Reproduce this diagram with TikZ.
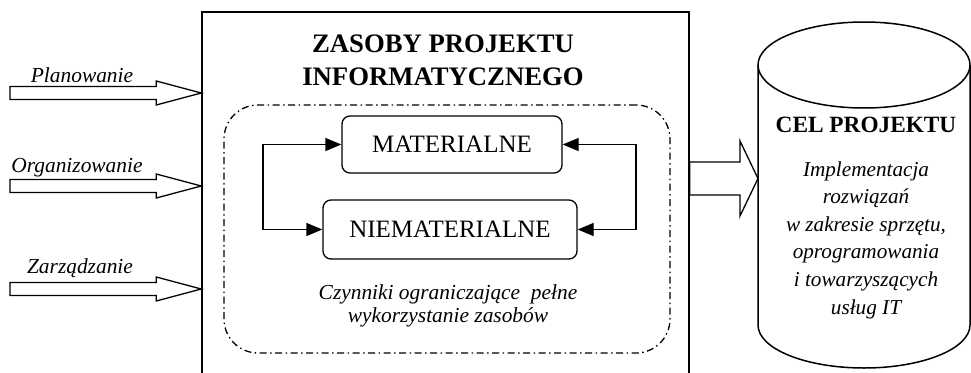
\documentclass[tikz,border=0pt]{standalone}
\usepackage{fontspec}
\setmainfont{Liberation Serif}
\usetikzlibrary{calc,arrows.meta}

% hollow block arrow: #1 tail, #2 tip, #3 shaft half-height, #4 head half-height, #5 head length
\newcommand{\hollowarrow}[5]{%
  \draw[blockarrow] ($(#1)+(0,-#3)$) -- ($(#2)+(-#5,-#3)$) -- ($(#2)+(-#5,-#4)$)
    -- (#2) -- ($(#2)+(-#5,#4)$) -- ($(#2)+(-#5,#3)$) -- ($(#1)+(0,#3)$) -- cycle;}

\tikzset{
  blockarrow/.style={draw=black, line width=1.3pt, fill=white, line join=miter},
  resbox/.style={draw, line width=1.3pt, rounded corners=8pt, font=\fontsize{25}{29}\selectfont},
  feedback/.style={line width=1.3pt, {Triangle[length=16pt,width=13pt]}-{Triangle[length=16pt,width=13pt]}},
  inlabel/.style={font=\itshape\fontsize{21.4}{25}\selectfont, inner sep=0pt},
}

\begin{document}
\begin{tikzpicture}[x=1pt,y=-1pt]
\clip (0,0) rectangle (971,372);
\fill[white] (0,0) rectangle (971,372);

% project resources block (its lower edge lies below the page)
\node[draw, line width=1.5pt, minimum width=487pt, minimum height=420pt, inner sep=0pt] (main) at (445.5,222) {};
\node[font=\bfseries\fontsize{26.7}{33}\selectfont, align=center, inner sep=0pt] (title) at (443,60)
  {ZASOBY PROJEKTU\\INFORMATYCZNEGO};

% constraints frame
\node[draw, line width=1.3pt, rounded corners=34pt, minimum width=446pt, minimum height=248pt,
      dash pattern=on 7pt off 3.5pt on 1.5pt off 3.5pt] (frame) at (447,229) {};

\node[resbox, minimum width=220pt, minimum height=57pt] (mat) at (452,144.5) {MATERIALNE};
\node[resbox, minimum width=254pt, minimum height=59pt] (nie) at (450,229.5) {NIEMATERIALNE};

\coordinate (L) at (263,186);
\coordinate (R) at (636,186);
\draw[feedback] (mat.west) -| (L) |- (nie.west);
\draw[feedback] (mat.east) -| (R) |- (nie.east);

\node[font=\itshape\fontsize{21.4}{23}\selectfont, align=center, inner sep=0pt] (limits) at (448,306)
  {Czynniki ograniczające\ \ pełne\\wykorzystanie zasobów};

% inputs
\coordinate (t1) at (10,93);  \coordinate (p1) at (main.west |- t1);
\coordinate (t2) at (10,186); \coordinate (p2) at (main.west |- t2);
\coordinate (t3) at (10,289); \coordinate (p3) at (main.west |- t3);
\hollowarrow{t1}{p1}{6.5}{12}{45}
\hollowarrow{t2}{p2}{6.5}{12}{45}
\hollowarrow{t3}{p3}{6.5}{12}{45}
\node[inlabel, anchor=base] (plan) at (82,82) {Planowanie};
\node[inlabel, anchor=base] (org) at (77,172) {Organizowanie};
\node[inlabel, anchor=base] (zarz) at (80,273) {Zarządzanie};

% project goal cylinder
\coordinate (goal) at (758,178.5);
\draw[line width=1.5pt, fill=white] (758,65) -- (758,325)
  arc[start angle=180, end angle=360, x radius=106pt, y radius=43pt] -- (970,65);
\draw[line width=1.5pt] (864,65) ellipse[x radius=106pt, y radius=43pt];
\node[font=\bfseries\fontsize{23.3}{27}\selectfont, anchor=base, inner sep=0pt] (goaltitle) at (866,132) {CEL PROJEKTU};
\node[font=\itshape\fontsize{21.2}{27.6}\selectfont, align=center, inner sep=0pt] (goaltext) at (866,240)
  {Implementacja\\rozwiązań\\w zakresie sprzętu,\\oprogramowania\\i towarzyszących\\usług IT};

% output
\coordinate (out) at (main.east |- goal);
\hollowarrow{out}{goal}{16.5}{37.5}{18}
\end{tikzpicture}
\end{document}
